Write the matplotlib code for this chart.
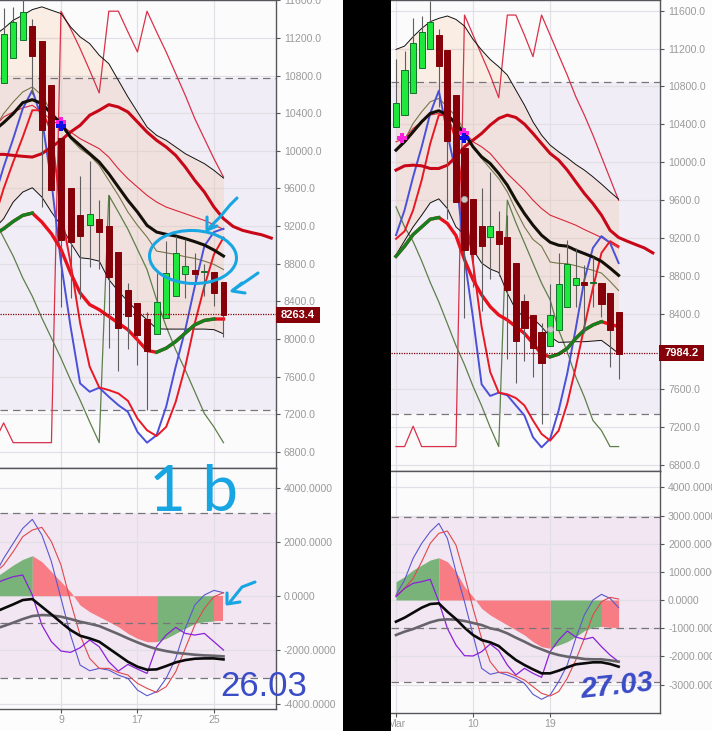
import matplotlib
matplotlib.use("Agg")
import matplotlib.pyplot as plt
from matplotlib.patches import Ellipse, Rectangle

W, H = 712, 731

# ---- left screenshot (26.03): candles start on the 3rd, lines on the 2nd
L_CANDLE_DAYS = list(range(3, 27))
L_OPEN = [10721, 10987, 11179, 11328, 11168, 10700, 10137, 9605, 9321, 9208, 9280, 9200,
          8928, 8522, 8383, 8213, 8052, 8223, 8455, 8693, 8736, 8710, 8711, 8608]
L_CLOSE = [11246, 11370, 11476, 11009, 10218, 9580, 9052, 9031, 9095, 9325, 9137, 8658,
           8116, 8241, 8038, 7878, 8394, 8704, 8917, 8779, 8690, 8718, 8490, 8252]
L_HIGH = [11519, 11530, 11650, 11400, 11168, 10700, 10137, 9605, 9729, 9892, 9480, 9527,
          8928, 8597, 8383, 8284, 8704, 9042, 9095, 9060, 8917, 8800, 8711, 8608]
L_LOW = [10721, 10987, 11179, 10600, 9400, 9580, 8337, 8440, 8426, 8765, 8740, 7903,
         7664, 7892, 7725, 7244, 8052, 8223, 8455, 8437, 8597, 8455, 8348, 8020]

L_DAYS = list(range(2, 27))
L_UPPER = [11226, 11299, 11388, 11441, 11501, 11530, 11494, 11459, 11317, 11211, 11140, 11016, 10927,
           10750, 10573, 10413, 10253, 10165, 10112, 10041, 9970, 9917, 9864, 9793, 9711]
L_LOWER = [9170, 9279, 9456, 9562, 9608, 9509, 9350, 9208, 9024, 8864, 8853, 8828, 8633,
           8508, 8401, 8294, 8205, 8109, 8106, 8106, 8106, 8106, 8106, 8100, 8056]
L_BLACK = [10215, 10300, 10395, 10512, 10544, 10502, 10395, 10289, 10147, 10058, 9970, 9881, 9757,
           9615, 9474, 9350, 9208, 9137, 9113, 9095, 9067, 9035, 8999, 8946, 8882]
L_TREND = [9112, 9172, 9250, 9314, 9339, 9243, 9119, 8953, 8704, 8490, 8366, 8312, 8241,
           8170, 8099, 7992, 7878, 7860, 7903, 7974, 8063, 8152, 8198, 8213, 8213]
L_THIN_RED = [10250, 10360, 10413, 10456, 10484, 10413, 10324, 10271, 10200, 10129, 10076, 10023, 9934,
              9810, 9704, 9615, 9527, 9456, 9403, 9367, 9332, 9296, 9261, 9215, 9165]
L_OLIVE = [10233, 10395, 10519, 10626, 10679, 10590, 10413, 10271, 10129, 10023, 9952, 9846, 9686,
           9527, 9350, 9208, 9084, 8935, 8917, 8899, 8875, 8857, 8828, 8793, 8739]
L_BLUE = [9493, 9828, 10129, 10448, 10643, 10342, 9669, 8811, 8134, 7529, 7440, 7483, 7387,
          7298, 7226, 7013, 6899, 6978, 7280, 7707, 8099, 8562, 8989, 9137, 9172]
L_RED = [9270, 9598, 9881, 10147, 10431, 10431, 10200, 9349, 8811, 8170, 7707, 7486, 7458,
         7422, 7344, 7155, 7031, 6970, 7066, 7333, 7707, 8170, 8561, 8900, 9078]
L_CRIMSON = [6899, 7109, 6899, 6899, 6899, 6899, 6899, 11484, 11299, 11087, 10856, 10615, 11484,
             11484, 11264, 11051, 11484, 11264, 11051, 10821, 10590, 10342, 10129, 9917, 9722]
L_GREEN = [9274, 9078, 8882, 8650, 8455, 8223, 8010, 7796, 7565, 7351, 7120, 6899, 9527,
           9350, 9167, 8953, 8739, 8419, 8134, 7885, 7671, 7440, 7209, 7066, 6899]
L_MID_DAYS = list(range(2, 32))
L_MID_RED = [9961, 9963, 9952, 9942, 9934, 9970, 10041, 10112, 10200, 10271, 10378, 10431, 10491, 10466, 10413,
             10307, 10200, 10112, 10041, 9952, 9828, 9686, 9562, 9403, 9279, 9197, 9155, 9130, 9108, 9073]

L_HIST = [650, 889, 1136, 1346, 1482, 1260, 889, 519, 148, -346, -593, -778, -963,
          -1149, -1396, -1581, -1704, -1704, -1581, -1396, -1210, -1025, -963, -939, -939]
L_OSC_BLUE = [720, 1383, 1939, 2495, 2828, 2248, 1260, -99, -1457, -2569, -2779, -2692, -2754,
              -2939, -3063, -3495, -3705, -3557, -3063, -2322, -1210, -346, 25, 198, 111]
L_OSC_RED = [820, 1136, 1630, 2186, 2433, 2532, 2001, 1136, -222, -1457, -2322, -2692, -2692,
             -2840, -2939, -3248, -3433, -3581, -3371, -2816, -1951, -1087, -469, -37, 111]
L_OSC_PURPLE = [430, 580, 704, 766, 25, -1087, -1704, -2050, -2099, -1927, -1642, -1889, -2445,
                -2791, -2544, -2717, -2877, -1889, -1457, -1173, -1396, -1457, -1396, -1704, -2013]
L_OSC_BLACK = [-620, -469, -321, -161, -123, -408, -692, -988, -1272, -1482, -1581, -1704, -1951,
               -2198, -2445, -2630, -2742, -2729, -2606, -2470, -2384, -2334, -2322, -2322, -2359]
L_OSC_GREY = [-1240, -1124, -1000, -865, -753, -716, -729, -778, -864, -963, -1037, -1124, -1272,
              -1420, -1581, -1729, -1865, -1976, -2050, -2112, -2149, -2186, -2211, -2223, -2248]

# ---- right screenshot (27.03)
R_DAYS = list(range(1, 28))
R_OPEN = [10366, 10493, 10726, 10990, 11191, 11343, 11181, 10708, 10145, 9609, 9323, 9210, 9270, 9204,
          8934, 8531, 8382, 8209, 8053, 8223, 8467, 8701, 8733, 8722, 8722, 8616, 8414]
R_CLOSE = [10620, 10969, 11255, 11378, 11484, 11019, 10226, 9581, 9069, 9034, 9111, 9323, 9136, 8651,
           8113, 8244, 8039, 7883, 8389, 8711, 8920, 8775, 8701, 8729, 8499, 8223, 7975]
R_HIGH = [11085, 11177, 11519, 11544, 11700, 11403, 11181, 10708, 10145, 9609, 9722, 9898, 9486, 9440,
          8934, 8609, 8382, 8297, 8711, 9041, 9182, 9094, 8917, 9000, 8722, 8616, 8414]
R_LOW = [10366, 10493, 10726, 10990, 11191, 10585, 9404, 9581, 8350, 8680, 8432, 8768, 8800, 7915,
         7667, 7901, 7731, 7235, 8053, 8223, 8467, 8467, 8191, 8467, 8368, 7837, 7713]
R_UPPER = [11191, 11226, 11325, 11413, 11484, 11519, 11544, 11508, 11438, 11297, 11184, 11085, 11008, 10920,
           10761, 10603, 10426, 10286, 10180, 10109, 10046, 9975, 9916, 9845, 9768, 9686, 9609]
R_LOWER = [9020, 9170, 9316, 9439, 9570, 9612, 9510, 9316, 9235, 9076, 8934, 8871, 8835, 8616,
           8439, 8361, 8350, 8262, 8156, 8096, 8099, 8103, 8103, 8110, 8117, 8050, 7979]
R_BLACK = [10127, 10215, 10321, 10427, 10515, 10543, 10497, 10409, 10303, 10162, 10056, 9986, 9880, 9757,
           9598, 9457, 9334, 9228, 9154, 9122, 9112, 9069, 9034, 8998, 8952, 8881, 8804]
R_TREND = [9005, 9112, 9235, 9316, 9397, 9415, 9352, 9225, 8970, 8757, 8598, 8473, 8385, 8333,
           8262, 8191, 8085, 7972, 7943, 7972, 8032, 8138, 8226, 8280, 8315, 8287, 8262]
R_THIN_RED = [10215, 10250, 10356, 10427, 10497, 10515, 10479, 10391, 10321, 10215, 10162, 10092, 9986, 9880,
              9792, 9704, 9598, 9510, 9440, 9405, 9370, 9334, 9288, 9246, 9204, 9147, 9094]
R_OLIVE = [10134, 10233, 10409, 10532, 10638, 10673, 10585, 10479, 10338, 10162, 10039, 9933, 9827, 9686,
           9493, 9316, 9183, 9111, 8945, 8931, 8927, 8906, 8881, 8857, 8828, 8740, 8644]
R_BLUE = [9228, 9493, 9845, 10162, 10515, 10754, 10303, 9880, 8988, 8350, 7653, 7530, 7565, 7537,
          7430, 7324, 7094, 6987, 7076, 7377, 7766, 8244, 8757, 9094, 9218, 9147, 8934]
R_RED = [9190, 9270, 9493, 9810, 10197, 10497, 10497, 10233, 9528, 8934, 8262, 7784, 7565, 7547,
         7508, 7430, 7271, 7129, 7058, 7164, 7448, 7837, 8262, 8669, 9041, 9165, 9111]
R_CRIMSON = [6995, 6995, 7210, 6995, 6995, 6995, 6995, 6995, 11554, 11343, 11131, 10920, 10680, 11554,
             11554, 11343, 11114, 11554, 11343, 11131, 10920, 10691, 10497, 10286, 10056, 9827, 9598]
R_GREEN = [9528, 9316, 9161, 8956, 8729, 8524, 8294, 8063, 7861, 7631, 7426, 7199, 6995, 9598,
           9360, 9147, 8934, 8722, 8545, 8226, 7996, 7731, 7519, 7271, 7164, 6995, 6995]
R_MID_DAYS = list(range(1, 32))
R_MID_RED = [9916, 9961, 9968, 9961, 9933, 9933, 9968, 10056, 10162, 10233, 10303, 10391, 10462, 10497, 10472, 10402,
             10303, 10197, 10092, 10021, 9916, 9792, 9669, 9563, 9440, 9281, 9204, 9165, 9129, 9094, 9041]

R_HIST = [651, 828, 1065, 1242, 1420, 1502, 1360, 1006, 473, 118, -296, -532, -710, -887,
          -1065, -1242, -1479, -1656, -1715, -1597, -1479, -1301, -1088, -970, -935, -970, -970]
R_OSC_BLUE = [177, 710, 1479, 2011, 2425, 2721, 2189, 1006, -59, -1242, -2425, -2638, -2567, -2662,
              -2780, -2958, -3348, -3525, -3372, -2898, -2307, -1360, -532, 0, 201, 59, -272]
R_OSC_RED = [154, 414, 769, 1360, 2011, 2366, 2449, 1952, 887, -296, -1360, -2189, -2567, -2567,
             -2697, -2839, -3076, -3312, -3407, -3253, -2780, -2129, -1360, -532, -59, 95, 35]
R_OSC_PURPLE = [118, 414, 592, 651, 733, -59, -1005, -1597, -1976, -1987, -1834, -1562, -1798, -2307,
                -2662, -2425, -2603, -2745, -1834, -1420, -1100, -1313, -1396, -1325, -1656, -1952, -2189]
R_OSC_BLACK = [-769, -627, -450, -272, -142, -118, -414, -674, -982, -1242, -1420, -1502, -1633, -1893,
               -2129, -2307, -2461, -2603, -2603, -2508, -2390, -2283, -2248, -2212, -2212, -2271, -2366]
R_OSC_GREY = [-1242, -1124, -1029, -911, -793, -710, -686, -698, -745, -816, -887, -1005, -1065, -1183,
              -1337, -1479, -1633, -1751, -1869, -1952, -2011, -2047, -2094, -2106, -2106, -2141, -2189]

L_PRICE_TICKS = [6800, 7200, 7600, 8000, 8400, 8800, 9200, 9600, 10000, 10400, 10800, 11200, 11600]
# the 8000 label on the right sits under the last price flag, so it is not shown
R_PRICE_TICKS = [6800, 7200, 7600, 8400, 8800, 9200, 9600, 10000, 10400, 10800, 11200, 11600]
L_OSC_TICKS = [-4000, -2000, 0, 2000, 4000]
R_OSC_TICKS = [-3000, -2000, -1000, 0, 1000, 2000, 3000, 4000]

GREY_TEXT = "#9a9a9a"
SPINE = "#55555a"
GRID = "#e2dfe6"
DARK_RED = "#850008"
BACK = "#fcfbfc"

plt.rcParams["font.family"] = ["Liberation Sans", "DejaVu Sans"]
fig = plt.figure(figsize=(W / 100, H / 100), dpi=100, facecolor="#fdfdfd")


def px_axes(x0, y0, x1, y1):
    # Place an axes from pixel edges measured on the screenshot.
    ax = fig.add_axes([x0 / W, 1 - y1 / H, (x1 - x0) / W, (y1 - y0) / H])
    ax.set_facecolor(BACK)
    ax.spines["left"].set_visible(False)
    for side in ["right", "top", "bottom"]:
        ax.spines[side].set_color(SPINE)
        ax.spines[side].set_linewidth(1.0)
    ax.yaxis.tick_right()
    ax.tick_params(axis="y", length=3, width=0.8, color=SPINE, pad=3, labelsize=7.6, labelcolor=GREY_TEXT)
    ax.tick_params(axis="x", length=3, width=0.8, color=SPINE, pad=1.5, labelsize=7.6, labelcolor=GREY_TEXT)
    return ax


def style_grid(ax, xticks):
    ax.set_xticks(xticks)
    ax.grid(True, color=GRID, linewidth=0.9, zorder=0)
    ax.set_axisbelow(True)


def draw_candles(ax, days, opens, closes, highs, lows, width):
    ax.vlines(days, lows, highs, color="#5f5f5f", linewidth=0.8, zorder=5)
    for d, o, c in zip(days, opens, closes):
        up = c >= o
        ax.bar(d, abs(c - o), bottom=min(o, c), width=width,
               color="#1fe83c" if up else DARK_RED,
               edgecolor="#12702a" if up else DARK_RED, linewidth=0.7, zorder=6)


def draw_trend(ax, days, values, greens):
    # Thick line that flips between red and green.
    ax.plot(days, values, color="#e8101c", linewidth=2.4, zorder=4)
    for start, end in greens:
        part = [(d, v) for d, v in zip(days, values) if start <= d <= end]
        ax.plot([p[0] for p in part], [p[1] for p in part], color="#14801e", linewidth=2.4, zorder=4)


def draw_price(ax, days, upper, lower, black, trend, thin_red, olive, blue, red, crimson, green,
               mid_days, mid_red, greens):
    ax.fill_between(days, lower, upper, color="#f09a50", alpha=0.14, linewidth=0, zorder=1)
    ax.plot(days, crimson, color="#d8324a", linewidth=0.9, zorder=2)
    ax.plot(days, green, color="#5d7f4a", linewidth=0.9, zorder=2)
    ax.plot(days, upper, color="#111111", linewidth=0.7, zorder=2)
    ax.plot(days, lower, color="#111111", linewidth=0.7, zorder=2)
    ax.plot(days, olive, color="#75774a", linewidth=0.8, zorder=2)
    ax.plot(days, thin_red, color="#d8283a", linewidth=0.8, zorder=2)
    ax.plot(days, blue, color="#4a50d8", linewidth=1.4, zorder=3)
    ax.plot(days, red, color="#e81824", linewidth=1.4, zorder=3)
    ax.plot(mid_days, mid_red, color="#c80818", linewidth=2.2, zorder=3)
    ax.plot(days, black, color="#141008", linewidth=2.2, zorder=3)
    draw_trend(ax, days, trend, greens)


def draw_osc(ax, days, hist, o_blue, o_red, o_purple, o_black, o_grey, greens, reds):
    for start, end in greens:
        part = [(d, v) for d, v in zip(days, hist) if start <= d <= end]
        ax.fill_between([p[0] for p in part], 0, [p[1] for p in part], color="#7ab37a", linewidth=0, zorder=2)
    for start, end in reds:
        part = [(d, v) for d, v in zip(days, hist) if start <= d <= end]
        ax.fill_between([p[0] for p in part], 0, [p[1] for p in part], color="#f87c84", linewidth=0, zorder=2)
    ax.plot(days, o_blue, color="#5a58d0", linewidth=0.8, zorder=3)
    ax.plot(days, o_red, color="#e0484c", linewidth=0.8, zorder=3)
    ax.plot(days, o_purple, color="#8a20d8", linewidth=0.9, zorder=3)
    ax.plot(days, o_grey, color="#66646a", linewidth=1.9, zorder=4)
    ax.plot(days, o_black, color="#0a0a0a", linewidth=1.9, zorder=4)


def add_zone(ax, top, bottom, color):
    ax.axhspan(bottom, top, color=color, linewidth=0, zorder=0.5)
    for level in [top, bottom]:
        ax.axhline(level, color="#77747a", linewidth=0.9, dashes=(6, 4), zorder=1.5)


def last_price(ax, value, label, x0, x1, y_px):
    ax.axhline(value, color=DARK_RED, linewidth=0.9, linestyle=(0, (1, 1)), zorder=7)
    over.add_patch(Rectangle((x0, y_px - 8), x1 - x0, 16, color=DARK_RED, linewidth=0, zorder=8))
    over.text((x0 + x1) / 2, y_px, label, color="white", fontsize=8, fontweight="bold",
              ha="center", va="center", zorder=9)


# ---- left price panel
lp = px_axes(0, 0, 275.5, 467.7)
lp.set_xlim(2.62, 31.44)
lp.set_ylim(6633, 11603)
style_grid(lp, [9, 17, 25])
lp.tick_params(axis="x", length=0, labelbottom=False)
lp.set_yticks(L_PRICE_TICKS, [f"{t:.1f}" for t in L_PRICE_TICKS])
add_zone(lp, 10775, 7250, "#f1edf6")
draw_price(lp, L_DAYS, L_UPPER, L_LOWER, L_BLACK, L_TREND, L_THIN_RED, L_OLIVE, L_BLUE, L_RED,
           L_CRIMSON, L_GREEN, L_MID_DAYS, L_MID_RED, [(2, 6), (19, 25)])
draw_candles(lp, L_CANDLE_DAYS, L_OPEN, L_CLOSE, L_HIGH, L_LOW, 0.62)
lp.plot([9], [10307], marker="P", color="#ff20e0", markersize=7, markeredgewidth=0, zorder=7)
lp.plot([9], [10260], marker="P", color="#1010e8", markersize=7, markeredgewidth=0, zorder=7)

# ---- left oscillator
lo = px_axes(0, 467.7, 275.5, 709)
lo.set_xlim(2.62, 31.44)
lo.set_ylim(-4196, 4741)
style_grid(lo, [9, 17, 25])
lo.set_xticklabels(["9", "17", "25"])
lo.set_yticks(L_OSC_TICKS, [f"{t:.4f}" for t in L_OSC_TICKS])
add_zone(lo, 3050, -3063, "#f2e6f2")
lo.axhline(-1025, color="#77747a", linewidth=0.9, dashes=(6, 4), zorder=5)
draw_osc(lo, L_DAYS, L_HIST, L_OSC_BLUE, L_OSC_RED, L_OSC_PURPLE, L_OSC_BLACK, L_OSC_GREY,
         [(2, 6), (19, 25)], [(6, 19), (25, 26)])

# ---- right price panel
rp = px_axes(391, 0, 659.7, 471)
rp.set_xlim(0.416, 31.8)
rp.set_ylim(6737, 11713)
style_grid(rp, [1, 10, 19])
rp.tick_params(axis="x", length=0, labelbottom=False)
rp.set_yticks(R_PRICE_TICKS, [f"{t:.1f}" for t in R_PRICE_TICKS])
add_zone(rp, 10842, 7341, "#f1edf6")
draw_price(rp, R_DAYS, R_UPPER, R_LOWER, R_BLACK, R_TREND, R_THIN_RED, R_OLIVE, R_BLUE, R_RED,
           R_CRIMSON, R_GREEN, R_MID_DAYS, R_MID_RED, [(1, 6), (19, 25)])
draw_candles(rp, R_DAYS, R_OPEN, R_CLOSE, R_HIGH, R_LOW, 0.72)
rp.plot([1.7, 9], [10260, 10303], linestyle="", marker="P", color="#ff20e0", markersize=7, markeredgewidth=0, zorder=7)
rp.plot([9], [10260], marker="P", color="#1010e8", markersize=7, markeredgewidth=0, zorder=7)
rp.plot([9, 19], [9609, 8234], linestyle="", marker="o", color="#c8c8c8", markeredgecolor="#9a9a9a",
        markersize=4.5, markeredgewidth=0.5, zorder=7)

# ---- right oscillator
ro = px_axes(391, 471, 659.7, 713)
ro.set_xlim(0.416, 31.8)
ro.set_ylim(-4011, 4580)
style_grid(ro, [1, 10, 19])
ro.set_xticklabels(["Mar", "10", "19"])
ro.set_yticks(R_OSC_TICKS, [f"{t:.4f}" for t in R_OSC_TICKS])
add_zone(ro, 2934, -2922, "#f2e6f2")
ro.axhline(-982, color="#77747a", linewidth=0.9, dashes=(6, 4), zorder=5)
draw_osc(ro, R_DAYS, R_HIST, R_OSC_BLUE, R_OSC_RED, R_OSC_PURPLE, R_OSC_BLACK, R_OSC_GREY,
         [(1, 6), (19, 25)], [(6, 19), (25, 27)])

# ---- overlay in screen pixels: black strip, price flags, hand drawn marks
over = fig.add_axes([0, 0, 1, 1])
over.set_xlim(0, W)
over.set_ylim(H, 0)
over.axis("off")
over.patch.set_visible(False)
over.add_patch(Rectangle((343, 0), 48, H, color="black", linewidth=0, zorder=1))

last_price(lp, 8266, "8263.4", 276, 320, 315)
last_price(rp, 7984, "7984.2", 659, 704, 353)

CYAN = "#18a6e2"
INK = "#3a4cc6"
ARROW_1 = ([237, 230, 220, 210], [198, 205, 217, 227])
HEAD_1 = ([207, 207, 217], [217, 230, 226])
ARROW_2 = ([258, 248, 233], [273, 280, 290])
HEAD_2 = ([242, 232, 245], [283, 291, 293])
ARROW_3 = ([255, 242, 230], [582, 587, 602])
HEAD_3 = ([227, 227, 240], [593, 604, 602])
for xs, ys in [ARROW_1, HEAD_1, ARROW_2, HEAD_2, ARROW_3, HEAD_3]:
    over.plot(xs, ys, color=CYAN, linewidth=2.2, solid_capstyle="round", zorder=5)
over.add_patch(Ellipse((193, 257), 87, 53, angle=2, fill=False, edgecolor=CYAN, linewidth=2.2, zorder=5))

over.text(194, 493, "1 b", color=CYAN, fontsize=46, family="Lato", ha="center", va="center", zorder=5)
over.text(264, 687, "26.03", color=INK, fontsize=25, ha="center", va="center", zorder=5)
over.text(617, 686, "27.03", color=INK, fontsize=21, fontweight="bold", fontstyle="italic",
          rotation=6, ha="center", va="center", zorder=5)

fig.savefig("out.png", dpi=100)
